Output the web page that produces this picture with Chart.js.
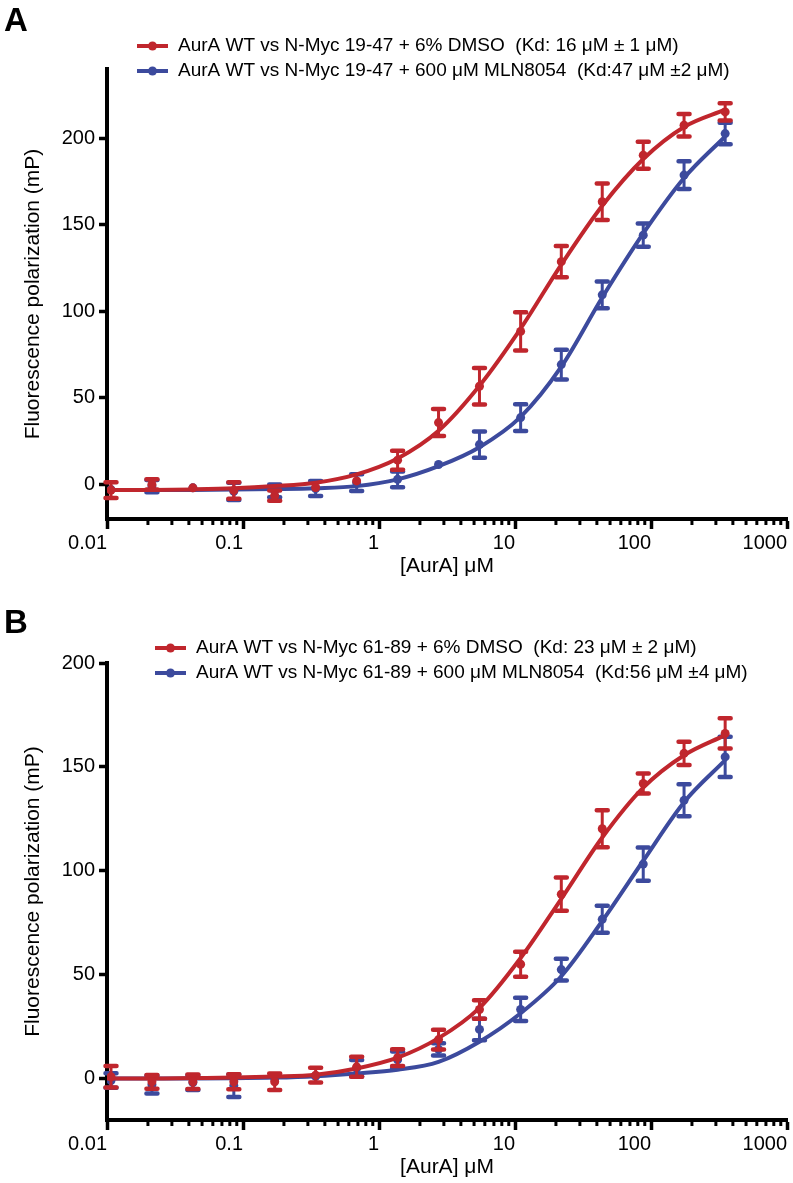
<!DOCTYPE html>
<html>
<head>
<meta charset="utf-8">
<script src="https://cdn.jsdelivr.net/npm/chart.js@4.4.1/dist/chart.umd.min.js"></script>
<style>
  html, body { margin: 0; padding: 0; background: #fff; }
  #wrapA { position: absolute; left: 0; top: 0; width: 793px; height: 590px; }
  #wrapB { position: absolute; left: 0; top: 590px; width: 793px; height: 593px; }
</style>
</head>
<body>
<div id="wrapA"><canvas id="chartA"></canvas></div>
<div id="wrapB"><canvas id="chartB"></canvas></div>
<script>
// [AurA] in uM (2-fold dilution series)
var conc = [0.0107, 0.0214, 0.0428, 0.0856, 0.171, 0.342, 0.685, 1.37, 2.74, 5.48, 11.0, 21.9, 43.8, 87.7, 175, 351];
var curveX = [0.01, 0.0214, 0.0428, 0.0856, 0.171, 0.342, 0.685, 1.37, 2.74, 5.48, 11.0, 21.9, 43.8, 87.7, 175, 351];

// panel A : N-Myc 19-47
var aDmso      = [-3.3, 0, -2, -3.5, -6.5, -1.8, 2, 14, 35.7, 56.7, 88.4, 128.7, 163.3, 190.2, 207.5, 215.2];
var aDmsoErr   = [4.6, 3, 1, 4.8, 3, 2, 2, 5.5, 7.8, 10.5, 11, 9, 10.6, 7.8, 6.5, 5];
var aMln       = [-3, -1, -2, -4, -3.7, -2.4, 1, 2.9, 11.5, 23, 38.6, 69.2, 109.5, 144, 178.7, 202.7];
var aMlnErr    = [2, 3.5, 1, 5, 3.7, 4.3, 4.8, 4.6, 1.5, 7.6, 7.7, 8.6, 7.7, 6.7, 8, 6.2];
var aDmsoFit   = [-3.3, -3.2, -2.9, -2.3, -1.0, 1.0, 5.8, 15, 31, 57, 90, 127, 161, 188, 206.5, 216.5];
var aMlnFit    = [-3.3, -3.3, -3.2, -3.0, -2.7, -2.2, -1.0, 2.9, 10.5, 21.5, 39, 68, 108, 145, 177, 201];

// panel B : N-Myc 61-89
var bDmso      = [0.8, -1.6, -1.6, -1.6, -1.6, 1.6, 5.6, 10, 18.7, 33.2, 55, 88.7, 120.2, 142, 156.5, 166.1];
var bDmsoErr   = [5.2, 3.3, 3.5, 3.6, 4, 3.5, 4.8, 4, 4.8, 4.4, 6, 8, 8.9, 4.8, 5.6, 7.3];
var bMln       = [-1, -3, -2, -3.5, 0, 1, 4.9, 9, 14, 23.6, 33.2, 52.4, 76.6, 103.2, 133.9, 154.8];
var bMlnErr    = [3.5, 4.3, 3.5, 5.4, 2, 2, 4, 4, 3, 5.2, 5.6, 5.2, 6.5, 8, 7.7, 9.7];
var bDmsoFit   = [0, 0, 0.2, 0.4, 0.9, 1.8, 4.8, 10, 19.4, 34, 58, 86.5, 116, 140, 155.6, 165.3];
var bMlnFit    = [0, 0, 0, 0.1, 0.4, 1.1, 2.4, 4.2, 8, 17.7, 31.4, 49.2, 75.8, 104.8, 133, 153.2];

var xDecades = [0.01, 0.1, 1, 10, 100, 1000];
var xTickLabels = ["0.01", "0.1", "1", "10", "100", "1000"];
var yTicks = [0, 50, 100, 150, 200];

var legendA = ["AurA WT vs N-Myc 19-47 + 6% DMSO  (Kd: 16 \u03BCM \u00B1 1 \u03BCM)",
               "AurA WT vs N-Myc 19-47 + 600 \u03BCM MLN8054  (Kd:47 \u03BCM \u00B12 \u03BCM)"];
var legendB = ["AurA WT vs N-Myc 61-89 + 6% DMSO  (Kd: 23 \u03BCM \u00B1 2 \u03BCM)",
               "AurA WT vs N-Myc 61-89 + 600 \u03BCM MLN8054  (Kd:56 \u03BCM \u00B14 \u03BCM)"];

var RED = "#c0262d";
var BLUE = "#3c4a9d";

Chart.defaults.font.family = "'Liberation Sans', Arial, sans-serif";
Chart.defaults.color = "#000";

// all tick marks of the log axis (1..9 per decade)
var xTickValues = [];
for (var d = 0; d < xDecades.length - 1; d++) {
  for (var m = 1; m < 10; m++) xTickValues.push(m == 1 ? xDecades[d] : xDecades[d] * m);
}
xTickValues.push(xDecades[xDecades.length - 1]);

function pts(xs, ys) {
  return xs.map(function (x, i) { return { x: x, y: ys[i] }; });
}

// error bars, drawn just before the points of their dataset
var errorBars = {
  id: "errorBars",
  beforeDatasetDraw: function (chart, args) {
    var ds = chart.data.datasets[args.index];
    if (!ds.errors) return;
    var ctx = chart.ctx, xs = chart.scales.x, ys = chart.scales.y;
    ctx.save();
    ctx.strokeStyle = ds.borderColor;
    ctx.lineCap = "round";
    ds.data.forEach(function (p, i) {
      var px = xs.getPixelForValue(p.x);
      var top = ys.getPixelForValue(p.y + ds.errors[i]);
      var bot = ys.getPixelForValue(p.y - ds.errors[i]);
      if (bot - top < 9) return;
      ctx.lineWidth = 3;
      ctx.beginPath(); ctx.moveTo(px, top); ctx.lineTo(px, bot); ctx.stroke();
      ctx.lineWidth = 4.5;
      ctx.beginPath();
      ctx.moveTo(px - 5.5, top); ctx.lineTo(px + 5.5, top);
      ctx.moveTo(px - 5.5, bot); ctx.lineTo(px + 5.5, bot);
      ctx.stroke();
    });
    ctx.restore();
  }
};

// short minor ticks on the log axis
var minorTicks = {
  id: "minorTicks",
  afterDraw: function (chart) {
    var s = chart.scales.x, ctx = chart.ctx, y0 = chart.chartArea.bottom;
    ctx.save();
    ctx.strokeStyle = "#000";
    ctx.lineWidth = 3;
    s.ticks.forEach(function (t) {
      if (t.major) return;
      var px = s.getPixelForValue(t.value);
      ctx.beginPath(); ctx.moveTo(px, y0); ctx.lineTo(px, y0 + 6); ctx.stroke();
    });
    ctx.restore();
  }
};

// legend and panel letter
var panelText = {
  id: "panelText",
  afterDraw: function (chart, args, opts) {
    var ctx = chart.ctx;
    ctx.save();
    ctx.fillStyle = "#000";
    ctx.textBaseline = "middle";
    ctx.font = "bold 33px 'Liberation Sans', Arial, sans-serif";
    ctx.fillText(opts.letter, 4, opts.letterY);
    ctx.font = "19px 'Liberation Sans', Arial, sans-serif";
    opts.labels.forEach(function (txt, i) {
      var y = opts.y0 + i * opts.dy;
      var col = i == 0 ? RED : BLUE;
      ctx.strokeStyle = col;
      ctx.fillStyle = col;
      ctx.lineWidth = 4;
      ctx.beginPath(); ctx.moveTo(opts.x0, y); ctx.lineTo(opts.x0 + 31, y); ctx.stroke();
      ctx.beginPath(); ctx.arc(opts.x0 + 15.5, y, 4.5, 0, Math.PI * 2); ctx.fill();
      ctx.fillStyle = "#000";
      ctx.fillText(txt, opts.x0 + 41, y);
    });
    ctx.restore();
  }
};

function makePanel(id, p) {
  return new Chart(document.getElementById(id), {
    type: "line",
    data: {
      datasets: [
        { data: pts(curveX, p.mlnFit), borderColor: BLUE, borderWidth: 4, pointRadius: 0,
          cubicInterpolationMode: "monotone", order: 4 },
        { data: pts(conc, p.mln), errors: p.mlnErr, borderColor: BLUE, backgroundColor: BLUE,
          showLine: false, pointRadius: 4.5, pointBorderWidth: 0, order: 3 },
        { data: pts(curveX, p.dmsoFit), borderColor: RED, borderWidth: 4, pointRadius: 0,
          cubicInterpolationMode: "monotone", order: 2 },
        { data: pts(conc, p.dmso), errors: p.dmsoErr, borderColor: RED, backgroundColor: RED,
          showLine: false, pointRadius: 4.5, pointBorderWidth: 0, order: 1 }
      ]
    },
    options: {
      responsive: true,
      maintainAspectRatio: false,
      animation: false,
      layout: { padding: p.padding },
      plugins: {
        legend: { display: false },
        tooltip: { enabled: false },
        panelText: p.text
      },
      scales: {
        x: {
          type: "logarithmic",
          min: 0.01, max: 1000,
          afterBuildTicks: function (s) {
            s.ticks = xTickValues.map(function (v) { return { value: v, major: xDecades.indexOf(v) >= 0 }; });
          },
          afterFit: function (s) { s.height = 60; },
          border: { display: true, color: "#000", width: 4 },
          grid: {
            drawOnChartArea: false, tickLength: 10, tickWidth: 3.5,
            tickColor: function (c) { return c.tick && c.tick.major ? "#000" : "rgba(0,0,0,0)"; }
          },
          ticks: {
            autoSkip: false, maxRotation: 0, align: "end", padding: 2,
            font: { size: 20 },
            callback: function (v) {
              var i = xDecades.indexOf(v);
              return i >= 0 ? xTickLabels[i] : "";
            }
          },
          title: { display: true, text: "[AurA] \u03BCM", font: { size: 21 }, padding: 0 }
        },
        y: {
          min: -20, max: p.yMax,
          afterBuildTicks: function (s) {
            s.ticks = yTicks.map(function (v) { return { value: v }; });
          },
          afterFit: function (s) { s.width = 86; },
          border: { display: true, color: "#000", width: 4 },
          grid: { drawOnChartArea: false, tickLength: 8, tickWidth: 3.5, tickColor: "#000" },
          ticks: { font: { size: 20 }, padding: 4 },
          title: { display: true, text: "Fluorescence polarization (mP)", font: { size: 21 }, padding: 0 }
        }
      }
    },
    plugins: [errorBars, minorTicks, panelText]
  });
}

makePanel("chartA", {
  dmso: aDmso, dmsoErr: aDmsoErr, mln: aMln, mlnErr: aMlnErr,
  dmsoFit: aDmsoFit, mlnFit: aMlnFit, yMax: 240,
  padding: { left: 21, right: 6, top: 69, bottom: 11 },
  text: { letter: "A", letterY: 22, labels: legendA, x0: 137, y0: 46, dy: 25 }
});

makePanel("chartB", {
  dmso: bDmso, dmsoErr: bDmsoErr, mln: bMln, mlnErr: bMlnErr,
  dmsoFit: bDmsoFit, mlnFit: bMlnFit, yMax: 200,
  padding: { left: 21, right: 6, top: 73, bottom: 3 },
  text: { letter: "B", letterY: 34, labels: legendB, x0: 155, y0: 58, dy: 25 }
});
</script>
</body>
</html>
